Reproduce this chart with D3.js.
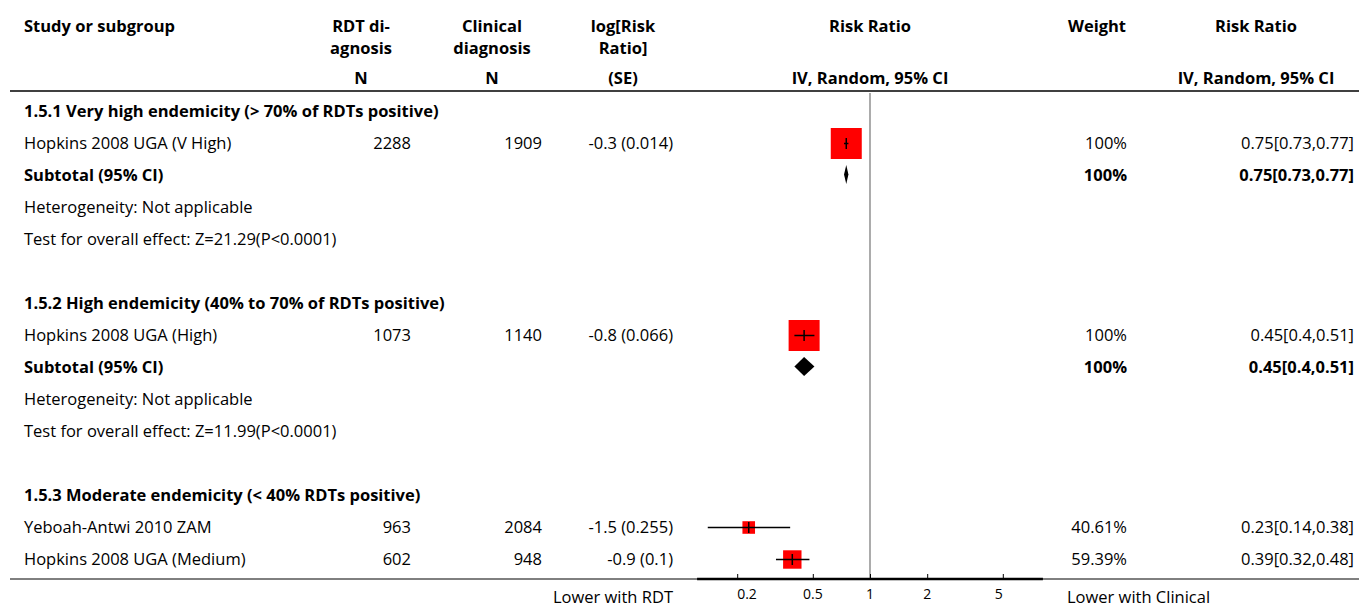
<!DOCTYPE html>
<html>
<head>
<meta charset="utf-8">
<script src="https://cdn.jsdelivr.net/npm/d3@7"></script>
<style>
  body { margin: 0; background: #fff; }
  svg { display: block; }
  text { font-family: "Open Sans", sans-serif; font-size: 16.5px; fill: #000; }
  .b { font-weight: bold; }
</style>
</head>
<body>
<svg id="chart" width="1359" height="608"></svg>
<script>
// ---------- data ----------
const subgroupTitles = [
  "1.5.1 Very high endemicity (> 70% of RDTs positive)",
  "1.5.2 High endemicity (40% to 70% of RDTs positive)",
  "1.5.3 Moderate endemicity (< 40% RDTs positive)"
];
const studyNames = ["Hopkins 2008 UGA (V High)", "Hopkins 2008 UGA (High)", "Yeboah-Antwi 2010 ZAM", "Hopkins 2008 UGA (Medium)"];
const studyGroup = [0, 1, 2, 2];
const rdtN = [2288, 1073, 963, 602];
const clinicalN = [1909, 1140, 2084, 948];
const logRRSE = ["-0.3 (0.014)", "-0.8 (0.066)", "-1.5 (0.255)", "-0.9 (0.1)"];
const studyWeight = [100, 100, 40.61, 59.39];
const studyRR = [0.75, 0.45, 0.23, 0.39];
const studyLo = [0.73, 0.4, 0.14, 0.32];
const studyHi = [0.77, 0.51, 0.38, 0.48];

const subtotalRR = [0.75, 0.45];
const subtotalLo = [0.73, 0.4];
const subtotalHi = [0.77, 0.51];
const subtotalWeight = [100, 100];
const heterogeneityText = ["Heterogeneity: Not applicable", "Heterogeneity: Not applicable"];
const overallText = ["Test for overall effect: Z=21.29(P<0.0001)", "Test for overall effect: Z=11.99(P<0.0001)"];

const axisTicks = [0.2, 0.5, 1, 2, 5];
const axisExtent = [0.123, 8.13];
const favoursLeft = "Lower with RDT";
const favoursRight = "Lower with Clinical";

// ---------- build row list ----------
const rows = [];
subgroupTitles.forEach((t, g) => {
  rows.push({type: "heading", text: t});
  studyNames.forEach((n, i) => { if (studyGroup[i] === g) rows.push({type: "study", i}); });
  if (g < subtotalRR.length) {
    rows.push({type: "subtotal", g});
    rows.push({type: "note", text: heterogeneityText[g]});
    rows.push({type: "note", text: overallText[g]});
    rows.push({type: "blank"});
  }
});

// ---------- scales ----------
const svg = d3.select("#chart");
const x = d3.scaleLog().domain([0.1, 10]).range([680, 1060]);
const y = d3.scaleLinear().domain([0, rows.length - 1]).range([111.5, 559.5]);
const sizeScale = d3.scaleLinear().domain([0, 100]).range([0, 31]);

const col = { study: 24, rdt: 411, clin: 542, lrr: 673, weight: 1127, rr: 1354 };
const hdr = { rdt: 361, clin: 492, lrr: 623, plot: 870, weight: 1097, rr: 1256 };

// ---------- header ----------
const H = svg.append("g");
function htext(xp, yp, t, anchor) {
  H.append("text").attr("class", "b").attr("x", xp).attr("y", yp)
    .attr("text-anchor", anchor || "middle").text(t);
}
htext(col.study, 32, "Study or subgroup", "start");
htext(hdr.rdt, 32, "RDT di-"); htext(hdr.rdt, 54, "agnosis"); htext(hdr.rdt, 84, "N");
htext(hdr.clin, 32, "Clinical"); htext(hdr.clin, 54, "diagnosis"); htext(hdr.clin, 84, "N");
htext(hdr.lrr, 32, "log[Risk"); htext(hdr.lrr, 54, "Ratio]"); htext(hdr.lrr, 84, "(SE)");
htext(hdr.plot, 32, "Risk Ratio"); htext(hdr.plot, 84, "IV, Random, 95% CI");
htext(hdr.weight, 32, "Weight");
htext(hdr.rr, 32, "Risk Ratio"); htext(hdr.rr, 84, "IV, Random, 95% CI");

svg.append("line").attr("x1", 10).attr("x2", 1359).attr("y1", 91).attr("y2", 91)
  .attr("stroke", "#000").attr("stroke-width", 1.6);

// ---------- line of no effect ----------
svg.append("line").attr("x1", x(1)).attr("x2", x(1)).attr("y1", 93).attr("y2", 579)
  .attr("stroke", "#888").attr("stroke-width", 1.4);

// ---------- rows ----------
const R = svg.append("g");
rows.forEach((r, k) => {
  const yc = y(k);
  const tx = (xp, t, anchor, bold) => R.append("text").attr("x", xp).attr("y", yc).attr("dy", "0.35em")
    .attr("text-anchor", anchor).attr("class", bold ? "b" : null).text(t);
  if (r.type === "heading") tx(col.study, r.text, "start", true);
  else if (r.type === "note") tx(col.study, r.text, "start", false);
  else if (r.type === "study") {
    const i = r.i;
    tx(col.study, studyNames[i], "start", false);
    tx(col.rdt, rdtN[i], "end", false);
    tx(col.clin, clinicalN[i], "end", false);
    tx(col.lrr, logRRSE[i], "end", false);
    tx(col.weight, studyWeight[i] + "%", "end", false);
    tx(col.rr, `${studyRR[i]}[${studyLo[i]},${studyHi[i]}]`, "end", false);
    const s = sizeScale(studyWeight[i]);
    R.append("rect").attr("x", x(studyRR[i]) - s / 2).attr("y", yc - s / 2)
      .attr("width", s).attr("height", s).attr("fill", "#ff0000");
    R.append("line").attr("x1", x(studyLo[i])).attr("x2", x(studyHi[i])).attr("y1", yc).attr("y2", yc)
      .attr("stroke", "#000").attr("stroke-width", 1.5);
    R.append("line").attr("x1", x(studyRR[i])).attr("x2", x(studyRR[i])).attr("y1", yc - 5.5).attr("y2", yc + 5.5)
      .attr("stroke", "#000").attr("stroke-width", 1.5);
  } else if (r.type === "subtotal") {
    const g = r.g;
    tx(col.study, "Subtotal (95% CI)", "start", true);
    tx(col.weight, subtotalWeight[g] + "%", "end", true);
    tx(col.rr, `${subtotalRR[g]}[${subtotalLo[g]},${subtotalHi[g]}]`, "end", true);
    const yd = yc - 1, h = 9.5;
    R.append("path")
      .attr("d", `M${x(subtotalLo[g])},${yd} L${x(subtotalRR[g])},${yd - h} L${x(subtotalHi[g])},${yd} L${x(subtotalRR[g])},${yd + h} Z`)
      .attr("fill", "#000");
  }
});

// ---------- axis ----------
const axisY = 579;
svg.append("line").attr("x1", 10).attr("x2", 1359).attr("y1", axisY).attr("y2", axisY)
  .attr("stroke", "#000").attr("stroke-width", 1);
const ax = svg.append("g").attr("transform", `translate(0,${axisY})`)
  .call(d3.axisTop(x).tickValues(axisTicks).tickSize(5).tickFormat(d3.format("")));
ax.select(".domain").remove();
ax.selectAll(".tick line").attr("stroke", "#000");
ax.selectAll(".tick text").remove();
svg.append("line").attr("x1", x(axisExtent[0])).attr("x2", x(axisExtent[1]))
  .attr("y1", axisY).attr("y2", axisY).attr("stroke", "#000").attr("stroke-width", 2.5);
const last = axisTicks.length - 1;
svg.append("g").selectAll("text").data(axisTicks).join("text")
  .attr("x", d => x(d)).attr("y", 598.5)
  .attr("text-anchor", (d, i) => i === 0 ? "start" : (i === last ? "end" : "middle"))
  .style("font-size", "14px").text(d => d);
svg.append("text").attr("x", col.lrr).attr("y", 603).attr("text-anchor", "end").text(favoursLeft);
svg.append("text").attr("x", 1067).attr("y", 603).attr("text-anchor", "start").text(favoursRight);
</script>
</body>
</html>
